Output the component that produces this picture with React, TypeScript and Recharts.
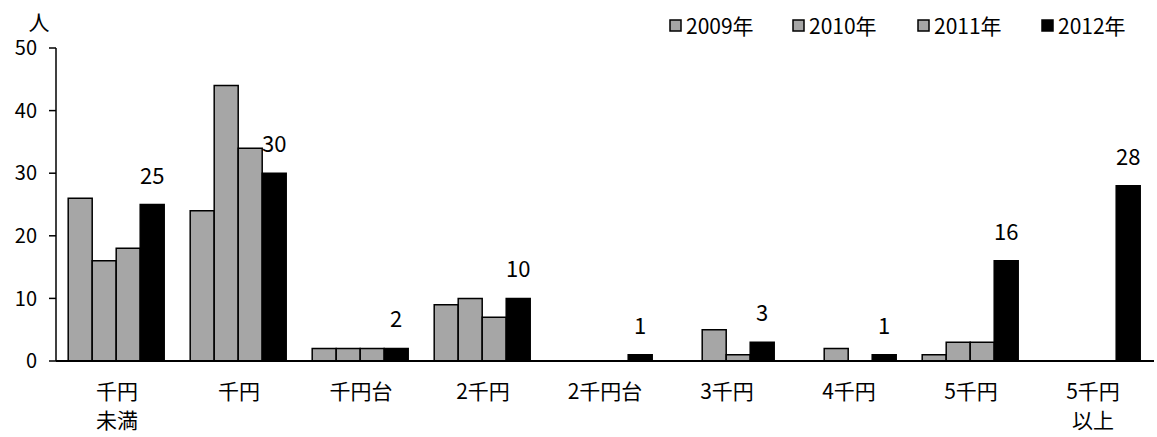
import { BarChart, Bar, XAxis, YAxis, LabelList } from 'recharts';

const categories = ['千円\n未満', '千円', '千円台', '2千円', '2千円台', '3千円', '4千円', '5千円', '5千円\n以上'];
const y2009 = [26, 24, 2, 9, 0, 0, 0, 1, 0];
const y2010 = [16, 44, 2, 10, 0, 5, 2, 3, 0];
const y2011 = [18, 34, 2, 7, 0, 1, 0, 3, 0];
const y2012 = [25, 30, 2, 10, 1, 3, 1, 16, 28];
const seriesNames = ['2009年', '2010年', '2011年', '2012年'];
const yTicks = [0, 10, 20, 30, 40, 50];

const GRAY = '#a6a6a6';
const FONT = '"Noto Sans CJK JP", "Noto Sans", sans-serif';

const data = categories.map((name, i) => ({
  name,
  y2009: y2009[i],
  y2010: y2010[i],
  y2011: y2011[i],
  y2012: y2012[i],
}));

const CategoryTick = (props: any) => {
  const { x, y, payload } = props;
  const lines = String(payload.value).split('\n');
  return (
    <text x={x} y={y} textAnchor="middle" fontSize={21} fill="#000" fontFamily={FONT}>
      {lines.map((line, i) => (
        <tspan key={i} x={x} dy={i === 0 ? 30 : 29}>
          {line}
        </tspan>
      ))}
    </text>
  );
};

const legendX = [670, 793, 918, 1042];

const App = () => {
  return (
    <div style={{ position: 'absolute', left: 0, top: 0, background: '#fff' }}>
      <BarChart
        width={1157}
        height={437}
        data={data}
        margin={{ top: 48, right: 3, bottom: 0, left: 0 }}
        barCategoryGap="10%"
        barGap={0}
        style={{ fontFamily: FONT }}
      >
        <XAxis
          dataKey="name"
          axisLine={{ stroke: '#000', strokeWidth: 2 }}
          tickLine={false}
          tick={<CategoryTick />}
          interval={0}
          height={76}
        />
        <YAxis
          domain={[0, 50]}
          ticks={yTicks}
          width={56}
          axisLine={{ stroke: '#000', strokeWidth: 1.5 }}
          tickLine={{ stroke: '#000', strokeWidth: 1.5 }}
          tickSize={7}
          tickMargin={12}
          tick={{ fill: '#000', fontSize: 20, fontFamily: FONT }}
        />
        <Bar dataKey="y2009" name={seriesNames[0]} fill={GRAY} stroke="#000" strokeWidth={1.5} isAnimationActive={false} />
        <Bar dataKey="y2010" name={seriesNames[1]} fill={GRAY} stroke="#000" strokeWidth={1.5} isAnimationActive={false} />
        <Bar dataKey="y2011" name={seriesNames[2]} fill={GRAY} stroke="#000" strokeWidth={1.5} isAnimationActive={false} />
        <Bar dataKey="y2012" name={seriesNames[3]} fill="#000" stroke="#000" strokeWidth={1.5} isAnimationActive={false}>
          <LabelList dataKey="y2012" position="top" offset={21} fill="#000" fontSize={22} fontFamily={FONT} />
        </Bar>
        <text x={39} y={30} textAnchor="middle" fontSize={21} fill="#000" fontFamily={FONT}>
          人
        </text>
        {seriesNames.map((s, i) => (
          <g key={s}>
            <rect
              x={legendX[i]}
              y={20}
              width={11}
              height={11}
              fill={i === 3 ? '#000' : GRAY}
              stroke="#000"
              strokeWidth={1.5}
            />
            <text x={legendX[i] + 16} y={34} fontSize={21} fill="#000" fontFamily={FONT}>
              {s}
            </text>
          </g>
        ))}
      </BarChart>
    </div>
  );
};

export default App;
